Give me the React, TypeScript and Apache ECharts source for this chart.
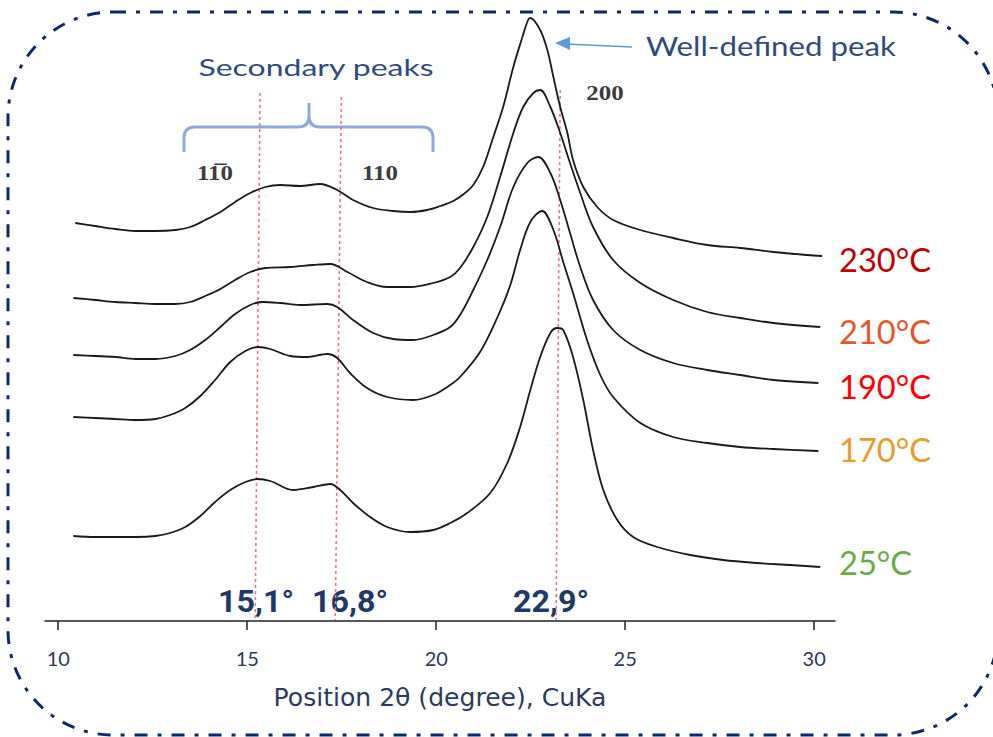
import React, { useEffect, useRef } from "react";
import * as echarts from "echarts";

// ---- data (2θ in degrees, stacked intensity in arbitrary units) ----
const xTicks = [10, 15, 20, 25, 30];
const tempLabels = ["230°C", "210°C", "190°C", "170°C", "25°C"];
const tempColors = ["#c00000", "#e8552a", "#ff0000", "#eb9a2c", "#6aab45"];
const peakLabels = ["15,1°", "16,8°", "22,9°"];
const reflectionLabels = ["11\u03050", "110", "200"];
const axisTitle = "Position 2θ (degree), CuKa";

const trace230: [number, number][] = [
  [10.45, 398], [10.98, 395], [11.51, 392], [12.04, 390], [12.57, 390], [13.1, 391], [13.49, 394],
  [13.89, 401], [14.29, 409], [14.68, 419], [15.08, 428], [15.48, 434], [15.87, 436], [16.4, 435],
  [16.93, 437], [17.38, 431], [17.8, 421], [18.33, 413], [18.86, 410], [19.31, 409], [19.76, 411],
  [20.11, 415], [20.45, 420], [20.73, 427], [20.98, 436], [21.24, 454], [21.51, 484], [21.77, 514],
  [22.04, 554], [22.28, 584], [22.43, 601], [22.49, 603], [22.75, 591], [22.94, 571], [23.1, 544],
  [23.28, 514], [23.47, 488], [23.62, 461], [23.89, 434], [24.26, 414], [24.68, 401], [25.4, 391],
  [26.27, 383], [27.17, 376], [28.04, 373], [28.92, 369], [29.81, 366], [30.21, 365],
];
const trace210: [number, number][] = [
  [10.4, 323], [10.98, 321], [11.51, 319], [12.04, 318], [12.57, 317], [13.1, 317], [13.49, 319],
  [13.89, 325], [14.29, 332], [14.68, 341], [15.08, 349], [15.48, 353], [16.14, 354], [16.75, 356],
  [17.2, 357], [17.65, 349], [18.17, 339], [18.7, 334], [19.31, 334], [19.92, 338], [20.37, 344],
  [20.63, 353], [20.98, 374], [21.35, 404], [21.69, 444], [22.04, 488], [22.3, 514], [22.57, 528],
  [22.75, 531], [23.02, 514], [23.28, 488], [23.54, 458], [23.81, 428], [24.15, 394], [24.68, 361],
  [25.4, 338], [26.27, 321], [27.17, 309], [28.04, 303], [28.92, 298], [30.16, 294],
];
const trace190: [number, number][] = [
  [10.4, 266], [10.98, 265], [11.51, 264], [12.04, 262], [12.57, 262], [13.1, 265], [13.49, 271],
  [13.89, 281], [14.29, 294], [14.68, 307], [15.08, 316], [15.4, 319], [15.87, 318], [16.4, 316],
  [17.12, 317], [17.38, 314], [17.8, 301], [18.33, 288], [18.86, 282], [19.39, 281], [19.92, 286],
  [20.37, 294], [20.63, 306], [20.98, 331], [21.35, 361], [21.69, 394], [22.04, 434], [22.41, 458],
  [22.7, 464], [23.02, 448], [23.28, 421], [23.54, 388], [23.81, 354], [24.15, 321], [24.68, 291],
  [25.4, 271], [26.27, 258], [27.17, 251], [28.04, 246], [28.92, 241], [30.11, 238],
];
const trace170: [number, number][] = [
  [10.4, 204], [10.98, 203], [11.51, 202], [12.04, 201], [12.57, 202], [12.96, 206], [13.36, 213],
  [13.76, 225], [14.15, 241], [14.55, 259], [14.95, 270], [15.29, 274], [15.61, 272], [16.14, 265],
  [16.59, 264], [17.12, 267], [17.38, 263], [17.72, 248], [18.17, 233], [18.7, 224], [19.39, 221],
  [19.92, 226], [20.37, 236], [20.63, 244], [21.16, 269], [21.61, 303], [21.96, 336], [22.22, 371],
  [22.49, 399], [22.8, 410], [23.1, 391], [23.36, 359], [23.62, 328], [23.99, 281], [24.34, 246],
  [24.68, 224], [25.4, 198], [26.27, 184], [27.17, 178], [28.04, 174], [28.92, 172], [30.11, 170],
];
const trace25: [number, number][] = [
  [10.4, 85], [10.98, 84], [11.51, 84], [12.04, 84], [12.57, 85], [12.96, 88], [13.36, 94],
  [13.76, 105], [14.15, 119], [14.55, 131], [14.95, 139], [15.26, 142], [15.61, 140], [16.22, 131],
  [16.75, 134], [17.2, 137], [17.46, 131], [17.8, 118], [18.25, 104], [18.7, 94], [19.31, 89],
  [19.92, 91], [20.37, 98], [20.82, 108], [21.43, 128], [21.88, 158], [22.22, 194], [22.49, 231],
  [22.75, 264], [23.02, 288], [23.2, 293], [23.36, 291], [23.62, 264], [23.89, 221], [24.15, 171],
  [24.42, 131], [24.79, 101], [25.21, 84], [25.85, 74], [26.72, 66], [27.59, 61], [28.49, 58],
  [29.37, 56], [30.16, 54],
];
const traces = [trace230, trace210, trace190, trace170, trace25];

// reference (red dotted) lines: x at top / bottom, top height
const peakLineTopX = [15.34, 17.49, 23.28];
const peakLineBottomX = [15.21, 17.33, 23.17];
const peakLineTopY = [528, 524, 531];

const NAVY = "#2b3a5c";
const TEXT_BLUE = "#2f4b7c";

function measure(text: string, font: string): number {
  const ctx = document.createElement("canvas").getContext("2d");
  if (!ctx) return 1;
  ctx.font = font;
  return ctx.measureText(text).width || 1;
}

function fitScale(text: string, weight: string, size: number, family: string, target: number) {
  return target / measure(text, `${weight} ${size}px ${family}`);
}

let braceRegistered = false;

export default function App() {
  const ref = useRef<HTMLDivElement>(null);

  useEffect(() => {
    document.body.style.margin = "0";
    if (!ref.current) return;
    if (!braceRegistered) {
      echarts.graphic.registerShape(
        "brace",
        echarts.graphic.extendPath(
          "M184 152 L184 138 Q184 127 195 127 L298 127 Q309 127 309 116 L309 103 M309 116 Q309 127 320 127 L422 127 Q433 127 433 138 L433 152",
          {}
        )
      );
      braceRegistered = true;
    }
    const chart = echarts.init(ref.current, undefined, { renderer: "svg" });

    const fam = "Lato";
    const sSec = fitScale("Secondary peaks", "normal", 24, fam, 236);
    const sWell = fitScale("Well-defined peak", "normal", 27, fam, 250);
    const sTemp = fitScale("230°C", "normal", 32, fam, 92);
    const sPeak = fitScale("15,1°", "bold", 32, "Roboto", 76);
    const sRefl = fitScale("110", "bold", 21, "Liberation Serif", 36);
    const titleFont = "DejaVu Sans";
    const titleSize = Math.max(18, Math.min(28, (24 * 333) / measure(axisTitle, `normal 24px ${titleFont}`)));

    const tempY = [260, 332, 387, 450, 563];
    const peakPos = [
      [256, 601],
      [350, 601],
      [551, 601],
    ];
    const reflPos = [
      [215, 173],
      [380, 173],
      [605, 93],
    ];

    const series: any[] = traces.map((d, i) => ({
      type: "line",
      name: tempLabels[i],
      data: d,
      showSymbol: false,
      smooth: 0.35,
      lineStyle: { color: "#1a1a1a", width: 1.8 },
      z: 3,
    }));
    peakLineTopX.forEach((xt, i) => {
      series.push({
        type: "line",
        name: "ref" + i,
        data: [
          [xt, peakLineTopY[i]],
          [peakLineBottomX[i], 1],
        ],
        showSymbol: false,
        lineStyle: { color: "#f07878", width: 1.6, type: [3, 3] },
        z: 2,
      });
    });

    const graphics: any[] = [
      {
        type: "rect",
        shape: { x: 8, y: 12, width: 990, height: 723, r: 105 },
        style: { fill: "none", stroke: "#0b2a66", lineWidth: 3, lineDash: [13, 10, 4, 10] },
        silent: true,
      },
      {
        type: "brace",
        x: 0,
        y: 0,
        style: { fill: "none", stroke: "#8eaadb", lineWidth: 3 },
      },
      {
        type: "text",
        x: 316,
        y: 67,
        scaleX: sSec,
        style: { text: "Secondary peaks", fontSize: 24, fontFamily: fam, fill: TEXT_BLUE, align: "center", verticalAlign: "middle" },
      },
      {
        type: "text",
        x: 646,
        y: 45,
        scaleX: sWell,
        style: { text: "Well-defined peak", fontSize: 27, fontFamily: fam, fill: TEXT_BLUE, align: "left", verticalAlign: "middle" },
      },
      {
        type: "line",
        shape: { x1: 632, y1: 47, x2: 566, y2: 44 },
        style: { stroke: "#5b9bd5", lineWidth: 1.5 },
      },
      {
        type: "polygon",
        shape: { points: [[555, 43], [570, 37], [570, 50]] },
        style: { fill: "#5b9bd5" },
      },
    ];
    reflectionLabels.forEach((t, i) => {
      graphics.push({
        type: "text",
        x: reflPos[i][0],
        y: reflPos[i][1],
        scaleX: sRefl,
        style: { text: t, fontSize: 21, fontWeight: "bold", fontFamily: "Liberation Serif", fill: "#3c3c3c", align: "center", verticalAlign: "middle" },
      });
    });
    peakLabels.forEach((t, i) => {
      graphics.push({
        type: "text",
        x: peakPos[i][0],
        y: peakPos[i][1],
        scaleX: sPeak,
        style: { text: t, fontSize: 32, fontWeight: "bold", fontFamily: "Roboto", fill: "#1f3864", align: "center", verticalAlign: "middle" },
      });
    });
    tempLabels.forEach((t, i) => {
      graphics.push({
        type: "text",
        x: 839,
        y: tempY[i],
        scaleX: sTemp,
        style: { text: t, fontSize: 32, fontFamily: fam, fill: tempColors[i], align: "left", verticalAlign: "middle" },
      });
    });

    chart.setOption({
      animation: false,
      grid: { left: 45, right: 158, top: 0, bottom: 116, containLabel: false },
      xAxis: {
        type: "value",
        min: 9.65,
        max: 30.55,
        name: axisTitle,
        nameLocation: "middle",
        nameGap: 64,
        nameTextStyle: { fontSize: titleSize, color: NAVY, fontFamily: titleFont },
        axisLine: { show: true, lineStyle: { color: "#222", width: 1.5 } },
        axisTick: { show: true, customValues: xTicks, length: 9, lineStyle: { color: "#222", width: 1.5 } },
        axisLabel: { customValues: xTicks, margin: 27, fontSize: 20, color: NAVY, fontFamily: fam },
        splitLine: { show: false },
      },
      yAxis: { type: "value", min: 0, max: 621, show: false },
      series,
      graphic: graphics,
    });

    return () => chart.dispose();
  }, []);

  return <div ref={ref} style={{ width: 993, height: 737 }} />;
}
